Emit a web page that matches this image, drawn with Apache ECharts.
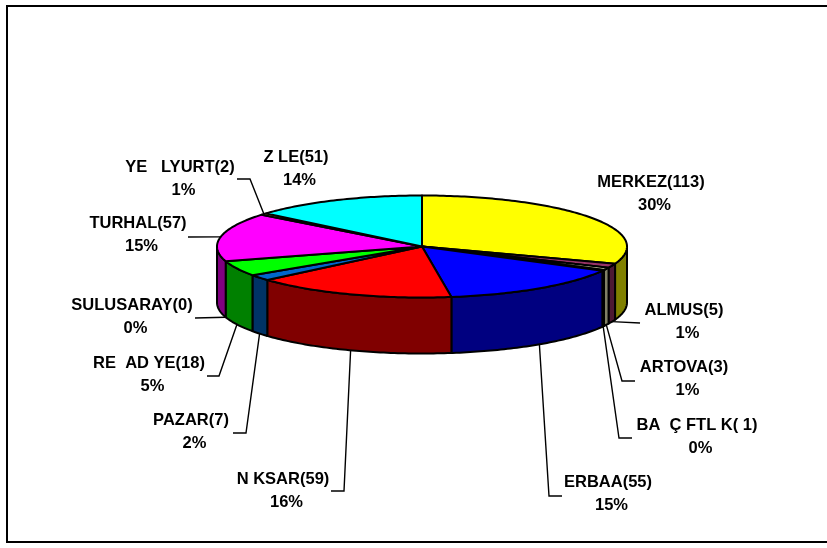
<!DOCTYPE html>
<html>
<head>
<meta charset="utf-8">
<style>html,body{margin:0;padding:0;background:#fff}#c{width:827px;height:548px}</style>
<script src="https://cdn.jsdelivr.net/npm/echarts@6/dist/echarts.min.js"></script>
</head>
<body>
<div id="c"></div>
<script>
// Data, clockwise from 12 o'clock
const districts = ['MERKEZ','ALMUS','ARTOVA','BA  Ç FTL K','ERBAA','N KSAR','PAZAR','RE  AD YE','SULUSARAY','TURHAL','YE   LYURT','Z LE'];
const counts = [113,5,3,1,55,59,7,18,0,57,2,51];
const valueTexts = ['(113)','(5)','(3)','( 1)','(55)','(59)','(7)','(18)','(0)','(57)','(2)','(51)'];
const topColors = ['#FFFF00','#993366','#FFFFCC','#CCFFFF','#0000FF','#FF0000','#0066CC','#00FF00','#660066','#FF00FF','#CCCC00','#00FFFF'];
const wallColors = ['#808000','#4D1933','#808066','#668080','#000080','#800000','#003366','#008000','#330033','#800080','#666600','#008080'];

// Layout only
const PIE = {cx: 422, cy: 246.5, rx: 205, ry: 51, depth: 56};
const labelCenters = [[651,182],[684,310],[684,367],[697,425],[608,482],[283,479],[191,420],[149,363],[132,305],[138,223],[180,167],[296,157]];
const PERCENT_SHIFT = [3.5, 23];
const leaderElbows = [null,[640,323],[622,381],[619,438],[549,496],[344,491],[246,433],[219,376],[195,318],[188,237],[250,179],null];
const leaderEnds = [null,null,[635,381],[632,438],[562,496],[331,491],[233,433],[207,376],null,null,[237,179],null];
const leaderOnWall = [false,true,true,true,true,true,true,true,true,false,false,false];

const total = counts.reduce((a, b) => a + b, 0);
const starts = [];
counts.reduce((sum, v, i) => { starts[i] = sum; return sum + v; }, 0);
const rows = counts.map((v, i) => [i, starts[i], v]);

const ang = v => v / total * 2 * Math.PI;
const pt = (t, dz) => [PIE.cx + PIE.rx * Math.sin(t), PIE.cy - PIE.ry * Math.cos(t) + (dz || 0)];
function arc(a, b, dz) {
  const out = [], step = Math.PI / 180;
  for (let t = a; t < b; t += step) out.push(pt(t, dz));
  out.push(pt(b, dz));
  return out;
}
const stroke = {stroke: '#000', lineWidth: 2, lineJoin: 'round'};
const FONT = 'bold 16.5px "Liberation Sans", Arial, sans-serif';

function renderWall(params, api) {
  const i = api.value(0), a = ang(api.value(1)), b = ang(api.value(1) + api.value(2));
  const lo = Math.max(a, Math.PI / 2), hi = Math.min(b, Math.PI * 1.5);
  if (hi <= lo) return {type: 'group', children: []};
  const pts = arc(lo, hi, 0).concat(arc(lo, hi, PIE.depth).reverse());
  return {type: 'polygon', shape: {points: pts}, style: Object.assign({fill: wallColors[i]}, stroke)};
}
function renderTop(params, api) {
  const i = api.value(0), a = ang(api.value(1)), b = ang(api.value(1) + api.value(2));
  if (b <= a) return {type: 'group', children: []};
  const pts = [[PIE.cx, PIE.cy]].concat(arc(a, b, 0));
  return {type: 'polygon', shape: {points: pts}, style: Object.assign({fill: topColors[i]}, stroke)};
}
function renderLabel(params, api) {
  const i = api.value(0), v = api.value(2);
  const mid = ang(api.value(1) + v / 2);
  const children = [];
  const elbow = leaderElbows[i];
  if (elbow) {
    const anchor = pt(mid, leaderOnWall[i] ? PIE.depth : 0);
    const pts = [anchor, elbow];
    if (leaderEnds[i]) pts.push(leaderEnds[i]);
    children.push({type: 'polyline', shape: {points: pts}, style: {stroke: '#000', lineWidth: 1.4, fill: 'none'}});
  }
  const c = labelCenters[i];
  children.push({type: 'text', style: {
    text: districts[i] + valueTexts[i],
    x: c[0], y: c[1], align: 'center', verticalAlign: 'middle', font: FONT, fill: '#000'
  }});
  children.push({type: 'text', style: {
    text: Math.round(v / total * 100) + '%',
    x: c[0] + PERCENT_SHIFT[0], y: c[1] + PERCENT_SHIFT[1], align: 'center', verticalAlign: 'middle', font: FONT, fill: '#000'
  }});
  return {type: 'group', children};
}

const chart = echarts.init(document.getElementById('c'), null, {renderer: 'canvas'});
const common = {type: 'custom', coordinateSystem: 'none', data: rows, silent: true, animation: false, clip: false};
chart.setOption({
  animation: false,
  backgroundColor: '#fff',
  graphic: [{type: 'rect', silent: true, z: -1,
    shape: {x: 7, y: 6, width: 900, height: 536},
    style: {fill: '#fff', stroke: '#000', lineWidth: 2}}],
  series: [
    Object.assign({}, common, {name: 'walls', renderItem: renderWall, z: 2}),
    Object.assign({}, common, {name: 'tops', renderItem: renderTop, z: 3}),
    Object.assign({}, common, {name: 'labels', renderItem: renderLabel, z: 4})
  ]
});
</script>
</body>
</html>
